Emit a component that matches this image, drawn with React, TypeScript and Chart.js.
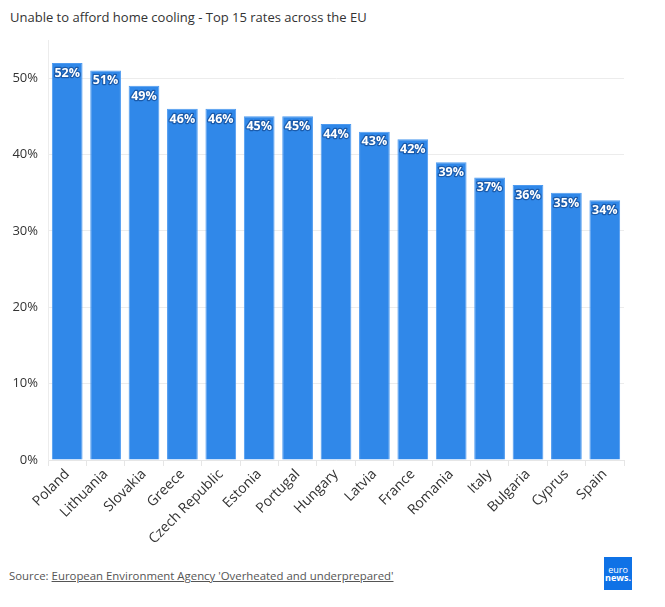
import React, { useEffect, useRef } from "react";
import { Chart, registerables } from "chart.js";

Chart.register(...registerables);

const countries = [
  "Poland", "Lithuania", "Slovakia", "Greece", "Czech Republic", "Estonia", "Portugal",
  "Hungary", "Latvia", "France", "Romania", "Italy", "Bulgaria", "Cyprus", "Spain",
];
const rates = [52, 51, 49, 46, 46, 45, 45, 44, 43, 42, 39, 37, 36, 35, 34];
const yTicks = [0, 10, 20, 30, 40, 50];

const FONT = "'Open Sans', 'Noto Sans', sans-serif";

const barLabels = {
  id: "barLabels",
  afterDatasetsDraw(chart: any) {
    const ctx = chart.ctx;
    const meta = chart.getDatasetMeta(0);
    ctx.save();
    ctx.font = `bold 12.5px ${FONT}`;
    ctx.textAlign = "center";
    ctx.textBaseline = "top";
    ctx.lineJoin = "round";
    meta.data.forEach((bar: any, i: number) => {
      const txt = `${rates[i]}%`;
      const x = bar.x;
      const y = bar.y + 4;
      ctx.strokeStyle = "#1b5bab";
      ctx.lineWidth = 2.5;
      ctx.strokeText(txt, x, y);
      ctx.fillStyle = "#ffffff";
      ctx.fillText(txt, x, y);
    });
    ctx.restore();
  },
};

export default function App() {
  const ref = useRef<HTMLCanvasElement | null>(null);

  useEffect(() => {
    document.body.style.margin = "0";
    const chart = new Chart(ref.current!, {
      type: "bar",
      data: {
        labels: countries,
        datasets: [
          {
            data: rates,
            backgroundColor: "#3088e9",
            borderColor: "#4d9af0",
            borderWidth: 1,
            barPercentage: 0.8,
            categoryPercentage: 1,
          },
        ],
      },
      options: {
        animation: false,
        responsive: false,
        maintainAspectRatio: false,
        layout: { padding: { top: 40, right: 41, left: 0, bottom: 0 } },
        plugins: {
          legend: { display: false },
          tooltip: { enabled: false },
        },
        scales: {
          x: {
            grid: {
              display: true,
              drawOnChartArea: false,
              drawTicks: true,
              tickLength: 6,
              color: "#e6e6e6",
            },
            border: { display: true, color: "#e6e6e6" },
            ticks: {
              maxRotation: 45,
              minRotation: 45,
              color: "#333333",
              font: { family: FONT, size: 14 },
              padding: 0,
            },
            afterFit(scale: any) {
              scale.height = 85;
            },
          },
          y: {
            min: 0,
            max: 55,
            afterBuildTicks(scale: any) {
              scale.ticks = yTicks.map((v) => ({ value: v }));
            },
            grid: { color: "#ececec", drawTicks: false },
            border: { display: true, color: "#ececec" },
            ticks: {
              color: "#333333",
              font: { family: FONT, size: 13 },
              padding: 10,
              callback: (v: any) => `${v}%`,
            },
            afterFit(scale: any) {
              scale.width = 48;
            },
          },
        },
      },
      plugins: [barLabels],
    });
    return () => chart.destroy();
  }, []);

  return (
    <div style={{ position: "relative", width: 665, height: 607, background: "#fff", fontFamily: FONT }}>
      <div style={{ position: "absolute", left: 10, top: 8, fontSize: 13, color: "#333" }}>
        Unable to afford home cooling - Top 15 rates across the EU
      </div>
      <canvas ref={ref} width={665} height={545} style={{ position: "absolute", left: 0, top: 0 }} />
      <div style={{ position: "absolute", left: 9, top: 568, fontSize: 11.4, color: "#555" }}>
        Source:{" "}
        <span style={{ textDecoration: "underline" }}>
          European Environment Agency 'Overheated and underprepared'
        </span>
      </div>
      <div
        style={{
          position: "absolute",
          left: 604,
          top: 557,
          width: 28,
          height: 33,
          background: "#0f72e6",
          color: "#fff",
          fontSize: 9,
          lineHeight: "8px",
          display: "flex",
          flexDirection: "column",
          justifyContent: "center",
          alignItems: "center",
          fontFamily: FONT,
        }}
      >
        <span style={{ fontWeight: 400 }}>euro</span>
        <span style={{ fontWeight: 700 }}>news.</span>
      </div>
    </div>
  );
}
